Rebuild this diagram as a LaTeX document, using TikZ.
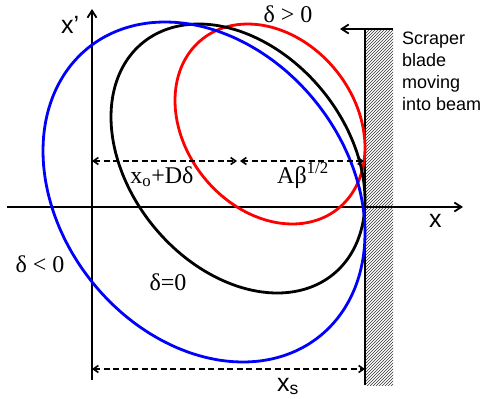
\documentclass[tikz,border=0pt]{standalone}
\usepackage{fontspec}
\setmainfont{Liberation Serif}
\setsansfont{Liberation Sans}
\usetikzlibrary{arrows.meta, patterns}
\definecolor{beamNeg}{HTML}{0000FF}
\definecolor{beamPos}{HTML}{FF0000}
\definecolor{bladeHatch}{HTML}{333333}

\begin{document}
\begin{tikzpicture}[x=1pt, y=-1pt,
  axis/.style={line width=1.8pt, -{Straight Barb[length=7pt, width=9pt]}},
  dim/.style={line width=1.6pt, dash pattern=on 6pt off 3.5pt,
              {Straight Barb[length=5pt, width=7pt]}-{Straight Barb[length=5pt, width=7pt]}},
  orbit/.style={line width=2.8pt},
  serif/.style={font=\fontsize{24}{28}\selectfont, inner sep=0pt},
  sans/.style={font=\sffamily\fontsize{25}{28}\selectfont, inner sep=0pt},
  note/.style={font=\sffamily\fontsize{18}{22}\selectfont, inner sep=0pt, align=left}
]
\useasboundingbox (0,0) rectangle (485,399);

\coordinate (xStart) at (7,207);
\coordinate (xEnd) at (463,207);
\coordinate (yStart) at (92,380);
\coordinate (yEnd) at (92,9);
\coordinate (bladeTop) at (365,29);
\coordinate (bladeBot) at (365,385);
\coordinate (pushStart) at (393,29);
\coordinate (pushTip) at (340,29);
\coordinate (dimOrig) at (92,161);
\coordinate (dimCtr) at (237,161);
\coordinate (dimCtrR) at (240,161);
\coordinate (dimEdge) at (364,161);
\coordinate (dimOrigS) at (92,369);
\coordinate (dimEdgeS) at (365,369);

\fill[pattern=north east lines, pattern color=bladeHatch] (365,30) rectangle (393,385);
\draw[line width=1.8pt] (bladeTop) -- (bladeBot);
\draw[axis] (pushStart) -- (pushTip);

\draw[axis] (xStart) -- (xEnd);
\draw[axis] (yStart) -- (yEnd);

\draw[orbit, beamPos] plot[smooth cycle, samples=72, domain=0:355]
  ({270+95*cos(\x)}, {124-100*cos(\x+103.6)});
\draw[orbit, black] plot[smooth cycle, samples=72, domain=0:355]
  ({238+127*cos(\x)}, {158.5-134.5*cos(\x+108)});
\draw[orbit, beamNeg] plot[smooth cycle, samples=72, domain=0:355]
  ({204+161*cos(\x)}, {192-170*cos(\x+104)});

\draw[dim] (dimOrig) -- (dimCtr);
\draw[dim] (dimCtrR) -- (dimEdge);
\draw[dim] (dimOrigS) -- (dimEdgeS);

\node[serif, anchor=base] (offsetLbl) at (162,183) {x\textsubscript{o}+Dδ};
\node[serif, anchor=base west] (sizeLbl) at (277,183) {Aβ\textsuperscript{1/2}};
\node[serif, anchor=base] (posLbl) at (288,22) {δ > 0};
\node[serif, anchor=base] (negLbl) at (40,272) {δ < 0};
\node[serif, anchor=base] (zeroLbl) at (168,290) {δ=0};

\node[sans, anchor=base west] (xpLbl) at (61,33) {x’};
\node[sans, anchor=base west] (xLbl) at (429,227) {x};
\node[sans, anchor=base west] (xsLbl) at (277,391) {x\textsubscript{s}};

\node[note, anchor=north west] (bladeLbl) at (402,32) {Scraper\\blade\\moving\\into beam};
\end{tikzpicture}
\end{document}
